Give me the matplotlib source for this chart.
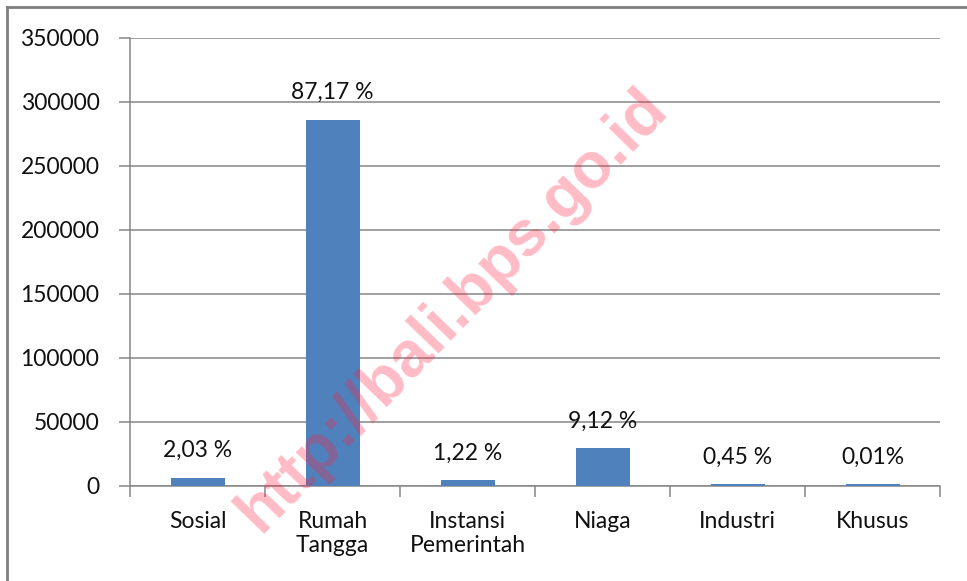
import matplotlib.pyplot as plt
from matplotlib.lines import Line2D

# data
categories = ["Sosial", "Rumah\nTangga", "Instansi\nPemerintah", "Niaga", "Industri", "Khusus"]
values = [6500, 286000, 4300, 29600, 1500, 1300]
pct_labels = ["2,03 %", "87,17 %", "1,22 %", "9,12 %", "0,45 %", "0,01%"]
y_ticks = [0, 50000, 100000, 150000, 200000, 250000, 300000, 350000]

plt.rcParams["font.family"] = ["Lato", "DejaVu Sans"]

W, H = 967, 581
fig = plt.figure(figsize=(W / 100, H / 100), dpi=100)
ax = fig.add_axes([130 / W, 1 - 486 / H, 810 / W, 448 / H])

bar_color = "#4f81bd"
grid_color = "#868686"
text_color = "#111111"
fs = 16.5
x = list(range(len(categories)))
ax.bar(x, values, width=0.4, color=bar_color, zorder=3)

ax.set_xlim(-0.5, len(categories) - 0.5)
ax.set_ylim(0, 350000)
ax.set_yticks(y_ticks)
ax.set_yticklabels([str(v) for v in y_ticks], fontsize=fs, color=text_color)
ax.yaxis.grid(True, color=grid_color, linewidth=1.1, zorder=0)
ax.tick_params(axis="y", length=8, color=grid_color, width=1.1, pad=14)

# category ticks sit on the boundaries, labels in the middle
ax.set_xticks([i - 0.5 for i in range(len(categories) + 1)])
ax.set_xticklabels([])
ax.set_xticks(x, minor=True)
ax.set_xticklabels(categories, minor=True, fontsize=fs, color=text_color, linespacing=1.15)
ax.tick_params(axis="x", which="major", length=8, color=grid_color, width=1.1)
ax.tick_params(axis="x", which="minor", length=0, pad=18)

for s in ["top", "right"]:
    ax.spines[s].set_visible(False)
for s in ["left", "bottom"]:
    ax.spines[s].set_color(grid_color)
    ax.spines[s].set_linewidth(1.1)
    ax.spines[s].set_zorder(2)

for xi, v, lab in zip(x, values, pct_labels):
    ax.annotate(lab, (xi, v), xytext=(0, 12), textcoords="offset points",
                ha="center", va="bottom", fontsize=fs, color=text_color, zorder=4)

# outer frame of the screenshot
fig.add_artist(Line2D([7 / W, 7 / W], [0, 1 - 7 / H], transform=fig.transFigure,
                      color="#7f7f7f", linewidth=2))
fig.add_artist(Line2D([7 / W, 1], [1 - 7 / H, 1 - 7 / H], transform=fig.transFigure,
                      color="#7f7f7f", linewidth=2))

# watermark
fig.text(452 / W, 1 - 310 / H, "http://bali.bps.go.id", rotation=46,
         ha="center", va="center", fontsize=46, fontweight="bold",
         family=["Liberation Sans", "DejaVu Sans"], color="#ff2040", alpha=0.3,
         zorder=10)

fig.savefig("out.png", dpi=100)
